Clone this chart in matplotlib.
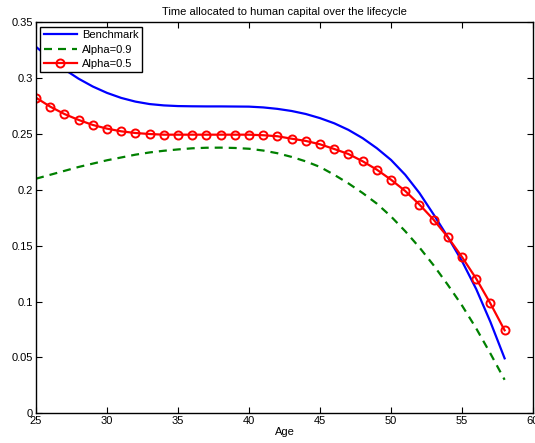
import matplotlib
matplotlib.use("Agg")
import matplotlib.pyplot as plt

plt.rcParams['font.family'] = ['Liberation Sans', 'DejaVu Sans']

# ages and time share spent on human capital, per scenario
age = list(range(25, 59))

benchmark = [0.3280, 0.3175, 0.3078, 0.2995, 0.2925, 0.2868, 0.2823, 0.2790, 0.2768, 0.2756,
             0.2750, 0.2748, 0.2747, 0.2747, 0.2746, 0.2745, 0.2738, 0.2725, 0.2706, 0.2679,
             0.2642, 0.2596, 0.2537, 0.2463, 0.2373, 0.2268, 0.2135, 0.1972, 0.1780, 0.1578,
             0.1362, 0.1112, 0.0818, 0.0492]

alpha_09 = [0.2100, 0.2135, 0.2170, 0.2205, 0.2235, 0.2265, 0.2290, 0.2315, 0.2335, 0.2350,
            0.2362, 0.2372, 0.2377, 0.2378, 0.2375, 0.2368, 0.2352, 0.2328, 0.2295, 0.2255,
            0.2205, 0.2135, 0.2058, 0.1972, 0.1877, 0.1762, 0.1630, 0.1485, 0.1325, 0.1150,
            0.0965, 0.0760, 0.0535, 0.0300]

alpha_05 = [0.2825, 0.2745, 0.2679, 0.2626, 0.2581, 0.2548, 0.2524, 0.2509, 0.2500, 0.2494,
            0.2494, 0.2494, 0.2494, 0.2494, 0.2494, 0.2494, 0.2489, 0.2480, 0.2458, 0.2438,
            0.2408, 0.2366, 0.2321, 0.2256, 0.2181, 0.2091, 0.1990, 0.1869, 0.1733, 0.1577,
            0.1399, 0.1205, 0.0983, 0.0743]

xticks = [25, 30, 35, 40, 45, 50, 55, 60]
yticks = [0, 0.05, 0.1, 0.15, 0.2, 0.25, 0.3, 0.35]
ytick_labels = ['0', '0.05', '0.1', '0.15', '0.2', '0.25', '0.3', '0.35']

fig = plt.figure(figsize=(5.35, 4.43), dpi=100)
ax = fig.add_axes([0.0673, 0.067, 0.9290, 0.8827])

ax.plot(age, benchmark, color=(0, 0, 1), lw=1.6, label='Benchmark')
ax.plot(age, alpha_09, color=(0, 0.5, 0), lw=1.6, ls=(0, (3.6, 2.7)), label='Alpha=0.9')
ax.plot(age, alpha_05, color=(1, 0, 0), lw=1.6, marker='o', ms=5.8,
        mfc='none', mec=(1, 0, 0), mew=1.4, label='Alpha=0.5')

ax.set_xlim(25, 60)
ax.set_ylim(0, 0.35)
ax.set_xticks(xticks)
ax.set_yticks(yticks)
ax.set_yticklabels(ytick_labels)
ax.tick_params(direction='in', top=True, right=True, labelsize=8, length=4, width=0.8, pad=2)
for s in ax.spines.values():
    s.set_linewidth(1.0)

ax.set_title('Time allocated to human capital over the lifecycle', fontsize=8, pad=5)
ax.set_xlabel('Age', fontsize=8, labelpad=1)

leg = ax.legend(loc='upper left', fontsize=8, fancybox=False, framealpha=1,
                edgecolor='black', borderpad=0.3, labelspacing=0.4,
                handlelength=3.0, handletextpad=0.45, borderaxespad=0.4)
leg.get_frame().set_linewidth(1.0)

fig.savefig('out.png', dpi=100)
